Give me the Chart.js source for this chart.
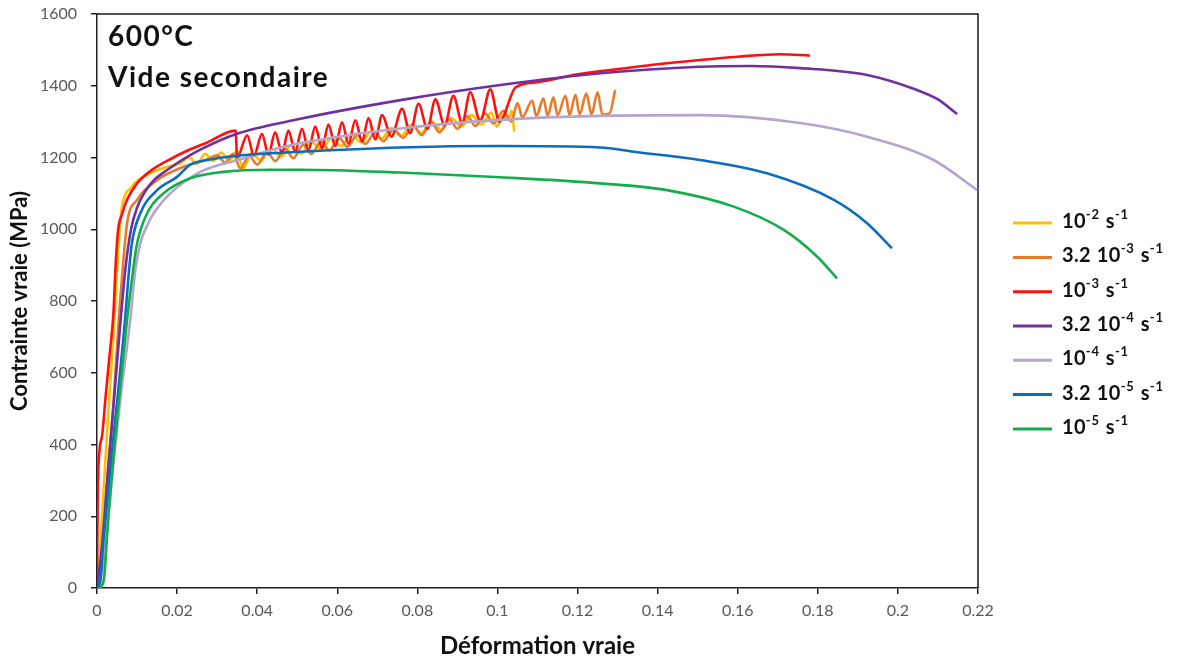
<!DOCTYPE html>
<html>
<head>
<meta charset="utf-8">
<script src="https://cdn.jsdelivr.net/npm/chart.js@4.4.0/dist/chart.umd.min.js"></script>
<style>
  html, body { margin: 0; background: #fff; }
  #wrap { width: 1196px; height: 664px; }
</style>
</head>
<body>
<div id="wrap"><canvas id="chart" width="1196" height="664"></canvas></div>
<script>
// Tensile curves at 600°C, [true strain, true stress (MPa)]
const rate1e2 = [[0,0],[0.0008,110],[0.0018,300],[0.003,520],[0.0042,720],[0.005,880],[0.0056,990],[0.0062,1060],[0.0072,1100],[0.0085,1115],[0.0095,1130],[0.0116,1146],[0.014,1160],[0.017,1172],[0.0208,1184],[0.023,1200],[0.025,1182],[0.027,1210],[0.029,1190],[0.031,1214],[0.033,1192],[0.035,1218],[0.0365,1168],[0.0385,1212],[0.041,1192],[0.0435,1225],[0.046,1202],[0.0485,1234],[0.051,1210],[0.0535,1244],[0.056,1222],[0.0585,1254],[0.061,1232],[0.0635,1264],[0.066,1242],[0.0685,1274],[0.071,1252],[0.0735,1282],[0.076,1260],[0.0785,1292],[0.081,1268],[0.0835,1300],[0.086,1276],[0.0885,1310],[0.091,1286],[0.0935,1318],[0.096,1292],[0.0985,1325],[0.0998,1286],[0.1015,1318],[0.1027,1305],[0.1035,1330],[0.1042,1272]];
const rate32e3 = [[0,0],[0.0012,100],[0.0025,300],[0.0042,530],[0.0055,760],[0.0062,860],[0.0075,1016],[0.01,1082],[0.015,1137],[0.0216,1174],[0.027,1192],[0.030,1206],[0.032,1186],[0.034,1210],[0.0358,1170],[0.038,1205],[0.040,1180],[0.0425,1215],[0.0445,1190],[0.047,1225],[0.049,1198],[0.0515,1235],[0.0535,1210],[0.056,1245],[0.058,1220],[0.0605,1255],[0.0625,1230],[0.065,1262],[0.067,1238],[0.0695,1270],[0.0715,1245],[0.074,1278],[0.0765,1255],[0.079,1290],[0.081,1262],[0.0835,1298],[0.0855,1270],[0.088,1306],[0.090,1280],[0.0925,1315],[0.0945,1288],[0.097,1322],[0.099,1295],[0.1015,1330],[0.1035,1300],[0.105,1352],[0.1062,1312],[0.1087,1358],[0.1097,1315],[0.1115,1364],[0.1125,1316],[0.114,1368],[0.115,1318],[0.117,1372],[0.118,1318],[0.1195,1375],[0.1205,1320],[0.1222,1378],[0.1235,1320],[0.125,1382],[0.1262,1320],[0.128,1323],[0.1294,1388]];
const rate1e3 = [[0,0],[0.0002,290],[0.0012,420],[0.0022,540],[0.0032,655],[0.0041,765],[0.0047,910],[0.0053,1000],[0.0062,1040],[0.0075,1082],[0.01,1128],[0.0133,1162],[0.0191,1200],[0.0216,1214],[0.0275,1242],[0.0346,1275],[0.035,1200],[0.0375,1262],[0.0392,1205],[0.0412,1266],[0.0428,1208],[0.0445,1270],[0.0462,1212],[0.0478,1275],[0.0495,1216],[0.0512,1280],[0.0528,1220],[0.0545,1286],[0.0562,1226],[0.0578,1292],[0.0595,1232],[0.0612,1298],[0.0628,1238],[0.0645,1304],[0.0662,1244],[0.0678,1310],[0.0695,1250],[0.0712,1318],[0.0735,1258],[0.0762,1336],[0.0782,1268],[0.0803,1350],[0.0825,1280],[0.0845,1362],[0.0868,1290],[0.089,1372],[0.0912,1296],[0.0932,1382],[0.0957,1302],[0.0982,1390],[0.1005,1300],[0.1045,1395],[0.11,1410],[0.12,1432],[0.1307,1447],[0.14,1460],[0.1506,1472],[0.16,1481],[0.1706,1488],[0.178,1484]];
const rate32e4 = [[0,0],[0.0012,110],[0.0028,330],[0.0045,560],[0.006,760],[0.0072,900],[0.0085,1000],[0.01,1060],[0.012,1105],[0.0145,1140],[0.0175,1165],[0.0215,1195],[0.0258,1222],[0.0346,1265],[0.0508,1308],[0.0758,1360],[0.1007,1402],[0.1257,1435],[0.1506,1453],[0.163,1455],[0.1756,1449],[0.1923,1430],[0.2048,1388],[0.21,1362],[0.2148,1321]];
const rate1e4 = [[0.0005,0],[0.0015,60],[0.0028,200],[0.0045,390],[0.0062,560],[0.0083,747],[0.0095,880],[0.0108,960],[0.0125,1010],[0.0141,1044],[0.0183,1100],[0.0258,1160],[0.0358,1195],[0.0433,1220],[0.0508,1240],[0.0758,1281],[0.1007,1305],[0.1257,1316],[0.1506,1318],[0.1756,1296],[0.1923,1258],[0.2089,1193],[0.2198,1109]];
const rate32e5 = [[0,0],[0.0008,20],[0.0017,143],[0.0037,375],[0.0054,561],[0.0071,760],[0.0078,860],[0.0087,960],[0.0108,1044],[0.015,1109],[0.02,1146],[0.0233,1180],[0.0275,1193],[0.035,1205],[0.0508,1216],[0.0758,1228],[0.1007,1232],[0.1257,1228],[0.134,1216],[0.1506,1193],[0.1673,1156],[0.184,1082],[0.1923,1017],[0.1985,947]];
const rate1e5 = [[0.0008,0],[0.0018,30],[0.0022,90],[0.0025,143],[0.0042,375],[0.0058,561],[0.0075,747],[0.0087,859],[0.01,960],[0.0125,1044],[0.0166,1100],[0.0233,1142],[0.0316,1160],[0.0433,1166],[0.0508,1166],[0.0758,1158],[0.1007,1145],[0.1257,1128],[0.1423,1109],[0.159,1063],[0.1715,998],[0.1798,924],[0.1848,863]];

const seriesLabels = ['10⁻² s⁻¹', '3.2 10⁻³ s⁻¹', '10⁻³ s⁻¹', '3.2 10⁻⁴ s⁻¹', '10⁻⁴ s⁻¹', '3.2 10⁻⁵ s⁻¹', '10⁻⁵ s⁻¹'];
const seriesColors = ['#FFC000', '#E87B2A', '#FF1010', '#7030A0', '#B4A5CF', '#0A6EC0', '#12AE4C'];
const seriesData = [rate1e2, rate32e3, rate1e3, rate32e4, rate1e4, rate32e5, rate1e5];

const notes = ['600°C', 'Vide secondaire'];

const xMax = 0.22, xStep = 0.02;
const yMax = 1600, yStep = 200;

const FONT = 'Lato, "Open Sans", sans-serif';
const supChars = { '⁻': '-', '¹': '1', '²': '2', '³': '3', '⁴': '4', '⁵': '5' };

// box round the plot (top and right sides)
const frame = {
    id: 'frame',
    beforeDatasetsDraw(chart) {
        const { ctx, chartArea: a } = chart;
        ctx.save();
        ctx.strokeStyle = '#1a1a1a';
        ctx.lineWidth = 1.5;
        ctx.beginPath();
        ctx.moveTo(a.left, a.top);
        ctx.lineTo(a.right, a.top);
        ctx.lineTo(a.right, a.bottom);
        ctx.stroke();
        ctx.restore();
    }
};

// condition text in the top-left corner
const cornerNotes = {
    id: 'cornerNotes',
    afterDraw(chart) {
        const { ctx, chartArea: a } = chart;
        ctx.save();
        ctx.fillStyle = '#111';
        ctx.font = 'bold 28px ' + FONT;
        ctx.letterSpacing = '1.5px';
        ctx.textBaseline = 'alphabetic';
        ctx.fillText(notes[0], a.left + 11, a.top + 32);
        ctx.fillText(notes[1], a.left + 11, a.top + 73);
        ctx.restore();
    }
};

// label with superscript exponents, drawn piece by piece
function drawRateLabel(ctx, text, x, y) {
    let cx = x;
    for (const ch of text) {
        if (ch === ' ') { cx += 6; continue; }
        const sup = ch in supChars;
        const c = sup ? supChars[ch] : ch;
        ctx.font = sup ? 'bold 13px ' + FONT : 'bold 20px ' + FONT;
        ctx.fillText(c, cx, sup ? y - 4 : y + 5);
        cx += ctx.measureText(c).width + (sup ? 0.8 : 0.3);
    }
}

// legend on the right, lines + labels
const sideLegend = {
    id: 'sideLegend',
    afterDraw(chart) {
        const { ctx, chartArea: a } = chart;
        const step = 34.3;
        const y0 = (a.top + a.bottom) / 2 + 25 - 3 * step;
        const x0 = a.right + 35;
        ctx.save();
        ctx.textBaseline = 'alphabetic';
        chart.data.datasets.forEach((ds, i) => {
            const y = y0 + i * step;
            ctx.strokeStyle = ds.borderColor;
            ctx.lineWidth = 3;
            ctx.beginPath();
            ctx.moveTo(x0, y);
            ctx.lineTo(x0 + 39, y);
            ctx.stroke();
            ctx.fillStyle = '#111';
            drawRateLabel(ctx, ds.label, x0 + 49, y);
        });
        ctx.restore();
    }
};

const datasets = seriesLabels.map((label, i) => ({
    label: label,
    data: seriesData[i].map(p => ({ x: p[0], y: p[1] })),
    borderColor: seriesColors[i],
    backgroundColor: seriesColors[i],
    borderWidth: 2.6,
    pointRadius: 0,
    cubicInterpolationMode: 'monotone',
    order: seriesLabels.length - 1 - i
}));

new Chart(document.getElementById('chart'), {
    type: 'line',
    data: { datasets: datasets },
    options: {
        responsive: false,
        animation: false,
        layout: { padding: { top: 14, right: 218, left: 0, bottom: 0 } },
        plugins: {
            legend: { display: false },
            tooltip: { enabled: false }
        },
        scales: {
            x: {
                type: 'linear',
                min: 0,
                max: xMax,
                afterFit: s => { s.height = 76; },
                ticks: {
                    stepSize: xStep,
                    color: '#595959',
                    font: { family: FONT, size: 16 },
                    padding: 7,
                    maxRotation: 0,
                    callback: v => String(+v.toFixed(2))
                },
                grid: { drawOnChartArea: false, drawTicks: true, tickLength: 6, color: '#222', lineWidth: 1.5 },
                border: { display: true, color: '#222', width: 1.5 },
                title: {
                    display: true,
                    text: 'Déformation vraie',
                    color: '#111',
                    font: { family: FONT, size: 24, weight: 'bold' },
                    padding: { top: 0, bottom: 3 }
                }
            },
            y: {
                type: 'linear',
                min: 0,
                max: yMax,
                afterFit: s => { s.width = 97; s.paddingTop = 0; s.paddingBottom = 0; },
                ticks: {
                    stepSize: yStep,
                    color: '#595959',
                    font: { family: FONT, size: 16 },
                    padding: 14,
                    callback: v => String(v)
                },
                grid: { drawOnChartArea: false, drawTicks: true, tickLength: 6, color: '#222', lineWidth: 1.5 },
                border: { display: true, color: '#222', width: 1.5 },
                title: {
                    display: true,
                    text: 'Contrainte vraie (MPa)',
                    color: '#111',
                    font: { family: FONT, size: 22, weight: 'bold' },
                    padding: { top: 7, bottom: 0 }
                }
            }
        }
    },
    plugins: [frame, cornerNotes, sideLegend]
});
</script>
</body>
</html>
